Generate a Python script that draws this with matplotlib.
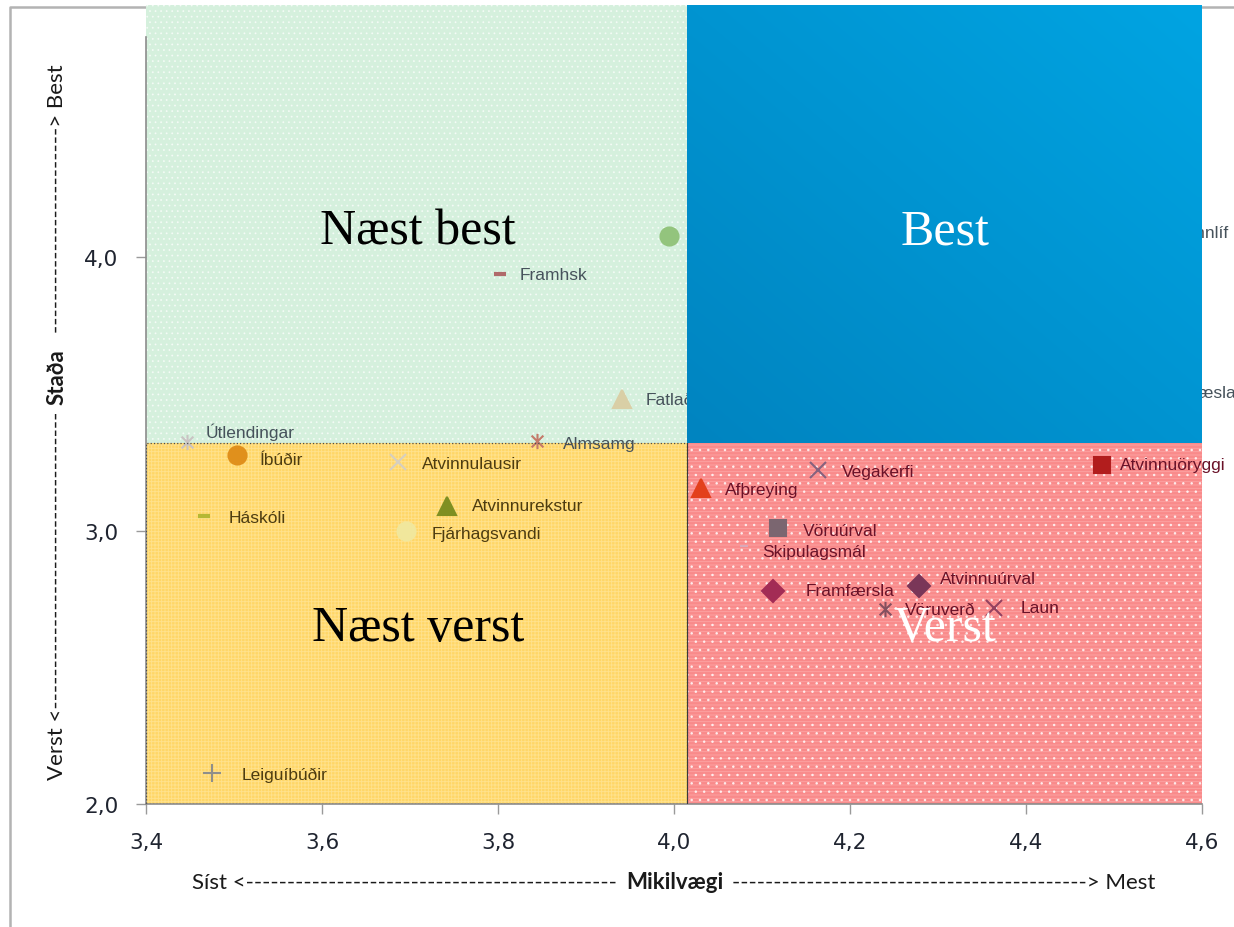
import numpy as np
import matplotlib.pyplot as plt
from matplotlib.patches import Rectangle
from matplotlib.lines import Line2D
from matplotlib.path import Path

plt.rcParams['hatch.linewidth'] = 0.6

# data (Mikilvægi = x, Staða = y)
names = ["Menntun", "Framhsk", "Fatlaðir", "Útlendingar", "Almsamg", "Íbúðir",
         "Atvinnulausir", "Atvinnurekstur", "Háskóli", "Fjárhagsvandi", "Leiguíbúðir",
         "Afþreying", "Vegakerfi", "Atvinnuöryggi", "Vöruúrval", "Skipulagsmál",
         "Framfærsla", "Atvinnuúrval", "Vöruverð", "Laun", "Mannlíf", "Heilsugæsla"]
mikilvaegi = [3.994, 3.802, 3.941, 3.447, 3.844, 3.503, 3.686, 3.742, 3.466, 3.695, 3.475,
              4.031, 4.164, 4.486, 4.118, 4.080, 4.113, 4.278, 4.240, 4.364, 4.540, 4.505]
stada = [4.077, 3.938, 3.481, 3.324, 3.327, 3.276, 3.250, 3.090, 3.053, 2.998, 2.113,
         3.155, 3.221, 3.240, 3.009, 2.943, 2.779, 2.797, 2.713, 2.717, 4.091, 3.506]
x_ticks = [3.4, 3.6, 3.8, 4.0, 4.2, 4.4, 4.6]
y_ticks = [2.0, 3.0, 4.0]
quadrants = ["Næst best", "Best", "Næst verst", "Verst"]

# styles
star = Path([(-1, -1), (1, 1), (-1, 1), (1, -1), (0, -1.3), (0, 1.3)],
            [Path.MOVETO, Path.LINETO, Path.MOVETO, Path.LINETO, Path.MOVETO, Path.LINETO])
markers = ['o', '_', '^', star, star, 'o', 'x', '^', '_', 'o', '+',
           '^', 'x', 's', 's', '_', 'D', 'D', star, 'x', 'o', '^']
colors = ['#93c47d', '#b06a6a', '#d9cfa6', '#c9c3c3', '#c47a6a', '#e0901c', '#d6cfc0',
          '#7f8f22', '#b5b834', '#f1e79c', '#8f8f8a',
          '#e3401c', '#86627e', '#b21d1d', '#7b6670', '#d9a9b9', '#a32c55', '#7a3658',
          '#84505f', '#94415f', '#8e6fa8', '#5b9bd5']
# label offsets in pixels (dx, dy)
offsets = [(22, 0), (20, 0), (24, 0), (18, 11), (26, -2), (23, -4), (24, -1), (25, 0),
           (25, -1), (26, -2), (30, -1), (24, -1), (24, -1), (18, 0), (25, -2), (18, -5),
           (32, 0), (21, 8), (20, 0), (26, 0), (22, 0), (22, 0)]

xmid, ymid, ytop = 4.015, 3.32, 4.921

W, H = 1234, 928
fig = plt.figure(figsize=(W / 100, H / 100), dpi=100)
ax = fig.add_axes([146 / W, 1 - 805 / H, (1202 - 146) / W, (805 - 38) / H])

def fx(px):
    return px / W

def fy(py):
    return 1 - py / H

# quadrant backgrounds
bg = [(3.4, ymid, xmid - 3.4, ytop - ymid, '#d5f0dd', '#ffffff', '...'),
      (3.4, 2.0, xmid - 3.4, ymid - 2.0, '#ffd667', '#ffeaa8', '+++++'),
      (xmid, 2.0, 4.6 - xmid, ymid - 2.0, '#f98a8a', '#ffb6b6', '-----')]
for x0, y0, w, h, fc, hc, hatch in bg:
    ax.add_patch(Rectangle((x0, y0), w, h, facecolor=fc, edgecolor='none',
                           zorder=0.5, clip_on=False))
    ax.add_patch(Rectangle((x0, y0), w, h, facecolor='none', edgecolor=hc, hatch=hatch,
                           lw=0, alpha=0.6, zorder=0.8, clip_on=False))
ax.add_patch(Rectangle((xmid, 2.0), 4.6 - xmid, ymid - 2.0, facecolor='none',
                       edgecolor='#ffffff', hatch='..', lw=0, alpha=0.75, zorder=0.9))
ax.add_patch(Rectangle((3.4, 2.0), xmid - 3.4, ymid - 2.0, facecolor='none',
                       edgecolor='#4d4d4d', lw=0.9, ls=':', zorder=3.6))
ax.plot([xmid, xmid], [2.0, ymid], color='#3a3a3a', lw=0.8, zorder=3.6)

# points and labels
for i in range(len(names)):
    m = markers[i]
    line_marker = m in ('x', '+', '_') or m is star
    ms = {'o': 13, '^': 13, 's': 12, 'D': 11, 'x': 12, '+': 13, '_': 9}.get(m, 11) if not m is star else 11
    mew = 3 if m == '_' else 1.5
    if i == 15:
        ms, mew = 6, 1.5
    ax.plot(mikilvaegi[i], stada[i], marker=m, ms=ms, mew=mew, ls='none',
            mfc='none' if line_marker else colors[i], mec=colors[i], zorder=2.5)
    if stada[i] > ymid:
        tc = '#46525b'
    elif mikilvaegi[i] < xmid:
        tc = '#4d3c10'
    else:
        tc = '#6a1228'
    dx, dy = offsets[i]
    ax.annotate(names[i], (mikilvaegi[i], stada[i]), xytext=(dx * 0.72, dy * 0.72),
                textcoords='offset points', ha='left', va='center', fontsize=12.5,
                family='Liberation Sans', color=tc, zorder=3)

# blue quadrant with gradient
u, v = np.meshgrid(np.linspace(0, 1, 60), np.linspace(0, 1, 60))
t = (u + v) / 2
c0 = np.array([0, 132, 192]) / 255
c1 = np.array([0, 164, 226]) / 255
grad = c0 + t[..., None] * (c1 - c0)
im = ax.imshow(grad, extent=[xmid, 4.6, ymid, ytop], origin='lower', aspect='auto',
               interpolation='bilinear', zorder=4)
im.set_clip_on(False)

# quadrant titles
tpos = [(3.709, 4.051, 'black'), (4.308, 4.051, 'white'),
        (3.709, 2.600, 'black'), (4.308, 2.600, 'white')]
for (tx, ty, tcol), q in zip(tpos, quadrants):
    ax.text(tx, ty, q, ha='center', va='baseline', fontsize=36,
            family='Liberation Serif', color=tcol, zorder=6)

ax.set_xlim(3.4, 4.6)
ax.set_ylim(2.0, 4.805)
ax.set_xticks(x_ticks)
ax.set_xticklabels([f"{v:.1f}".replace('.', ',') for v in x_ticks])
ax.set_yticks(y_ticks)
ax.set_yticklabels([f"{v:.1f}".replace('.', ',') for v in y_ticks])
ax.tick_params(length=7, width=1, color='#9a9a9a', labelsize=15.5,
               labelcolor='#1f2430', pad=13)
for s in ['top', 'right']:
    ax.spines[s].set_visible(False)
for s in ['left', 'bottom']:
    ax.spines[s].set_color('#8c8c8c')
    ax.spines[s].set_linewidth(1.2)

# axis titles
tk = dict(family='Lato', fontsize=16, color='#1a1a1a')
fig.text(fx(192), fy(883), "Síst <" + "-" * 45, ha='left', va='center', **tk)
fig.text(fx(675), fy(883), "Mikilvægi", ha='center', va='center', weight='bold', **tk)
fig.text(fx(1155), fy(883), "-" * 43 + "> Mest", ha='right', va='center', **tk)
fig.text(fx(57), fy(780), "Verst <" + "-" * 36, rotation=90, ha='center', va='bottom', **tk)
fig.text(fx(57), fy(377), "Staða", rotation=90, ha='center', va='center', weight='bold', **tk)
fig.text(fx(57), fy(64), "-" * 25 + "> Best", rotation=90, ha='center', va='top', **tk)

# outer chart frame
fig.add_artist(Line2D([fx(10), fx(10), fx(1240)], [0, fy(8), fy(8)],
                      color='#b3b3b3', lw=1.8, zorder=-1))

fig.savefig('out.png', dpi=100)
